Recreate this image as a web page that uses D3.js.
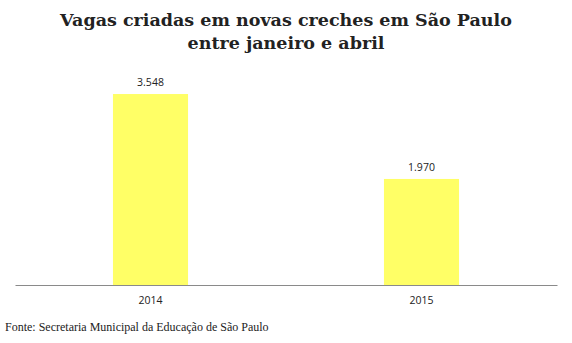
<!DOCTYPE html>
<html><head><meta charset="utf-8">
<script src="https://cdn.jsdelivr.net/npm/d3@7"></script>
<style>body{margin:0;background:#fff}</style>
</head><body>
<script>
const categories = ["2014", "2015"];
const values = [3548, 1970];
const valueLabels = ["3.548", "1.970"];
const titleLines = ["Vagas criadas em novas creches em São Paulo", "entre janeiro e abril"];
const source = "Fonte: Secretaria Municipal da Educação de São Paulo";

const W = 572, H = 343;
const svg = d3.select("body").append("svg").attr("width", W).attr("height", H);

const x = d3.scaleBand().domain(categories).range([15, 557]).paddingInner(0.723).paddingOuter(0.3615);
const y = d3.scaleLinear().domain([0, 4000]).range([285, 69.7]);

svg.selectAll("rect.bar").data(values).enter().append("rect")
  .attr("class", "bar")
  .attr("x", (d, i) => x(categories[i]))
  .attr("width", x.bandwidth())
  .attr("y", d => y(d))
  .attr("height", d => y(0) - y(d))
  .attr("fill", "#ffff66");

svg.selectAll("text.val").data(values).enter().append("text")
  .attr("class", "val")
  .attr("x", (d, i) => x(categories[i]) + x.bandwidth() / 2)
  .attr("y", d => y(d) - 8)
  .attr("text-anchor", "middle")
  .attr("font-family", "Open Sans, sans-serif")
  .attr("font-size", 10.5)
  .attr("fill", "#222")
  .text((d, i) => valueLabels[i]);

const xAxis = d3.axisBottom(x).tickSize(0).tickPadding(12);
const gx = svg.append("g").attr("transform", "translate(0,285)").call(xAxis);
gx.select(".domain").attr("stroke", "#8a8a8a").attr("stroke-width", 1.2);
gx.selectAll("text").attr("font-family", "Open Sans, sans-serif").attr("font-size", 10.5).attr("fill", "#222");

titleLines.forEach((t, i) => {
  svg.append("text")
    .attr("x", 286).attr("y", i === 0 ? 26 : 49)
    .attr("text-anchor", "middle")
    .attr("font-family", "DejaVu Serif, serif")
    .attr("font-weight", "bold")
    .attr("font-size", 17.5)
    .attr("fill", "#222")
    .text(t);
});

svg.append("text")
  .attr("x", 5).attr("y", 331)
  .attr("font-family", "Liberation Serif, serif")
  .attr("font-size", 12)
  .attr("fill", "#222")
  .text(source);
</script>
</body></html>
